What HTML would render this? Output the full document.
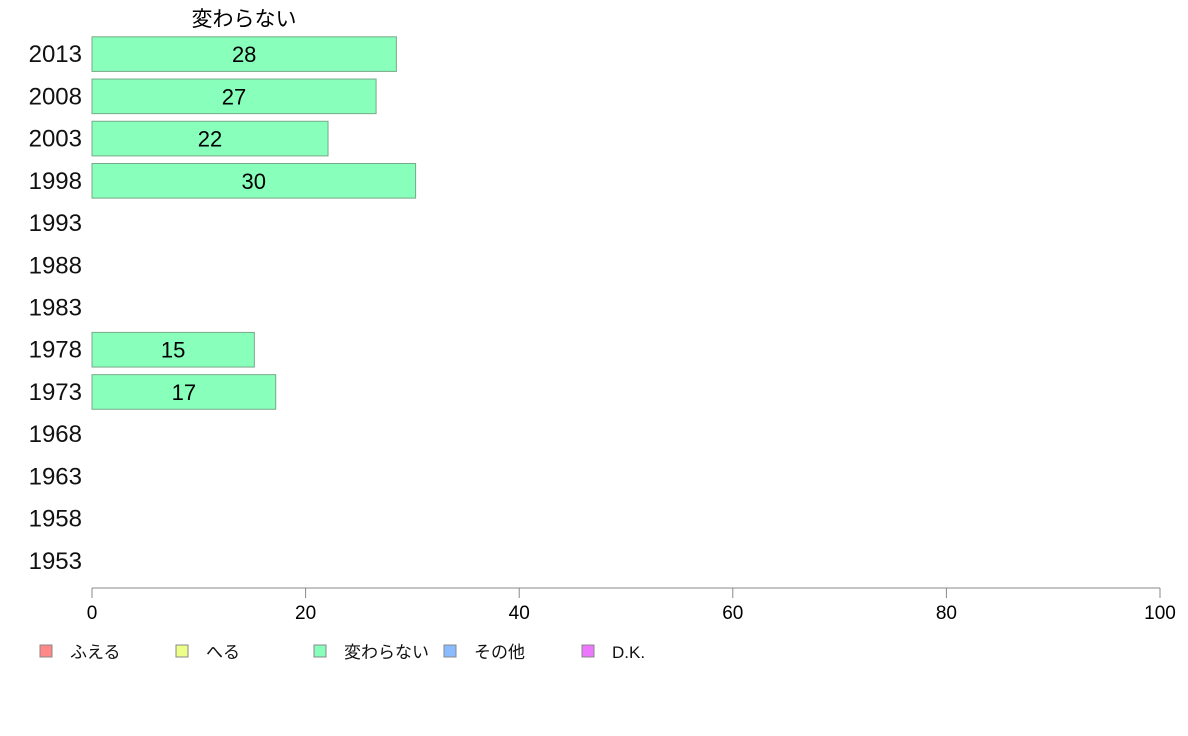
<!DOCTYPE html>
<html><head><meta charset="utf-8"><style>
body{margin:0;background:#fff;}
svg{display:block;font-family:"Liberation Sans","Noto Sans CJK JP",sans-serif;}
</style></head><body>
<svg id="chart" width="1188" height="736">
<text x="244" y="26" font-size="21" text-anchor="middle">変わらない</text>
</svg>
<script>
const years = ["2013","2008","2003","1998","1993","1988","1983","1978","1973","1968","1963","1958","1953"];
const values = [28.5,26.6,22.1,30.3,null,null,null,15.2,17.2,null,null,null,null];
const valueLabels = ["28","27","22","30","","","","15","17","","","",""];
const ticks = [0,20,40,60,80,100];
const legendLabels = ["ふえる","へる","変わらない","その他","D.K."];
const legendColors = ["#ff8888","#eeff88","#88ffbb","#88bbff","#ee77ff"];

const svgEl = document.getElementById('chart');
const NS = 'http://www.w3.org/2000/svg';
const x0 = 92, x1 = 1160, yTop = 33, yBottom = 582;
const xs = v => x0 + (v/100)*(x1-x0);
const band = (yBottom-yTop)/years.length;
const yc = i => yTop + band*(i+0.5);
function mk(tag, attrs){const e=document.createElementNS(NS,tag);for(const k in attrs)e.setAttribute(k,attrs[k]);svgEl.appendChild(e);return e;}

years.forEach((yr,i)=>{
  const t = mk('text',{x:82,y:yc(i)+8,'font-size':24,'text-anchor':'end',fill:'#111'});
  t.textContent = yr;
  
  
  if(values[i]!=null){
    const h = band*0.82;
    const r = mk('rect',{x:x0,y:yc(i)-h/2,width:xs(values[i])-x0,height:h,fill:'#88ffbb',stroke:'#77aa88','stroke-width':1});
    
    
    const vl = mk('text',{x:(x0+xs(values[i]))/2,y:yc(i)+8,'font-size':22,'text-anchor':'middle',fill:'#000'});
    vl.textContent = valueLabels[i];
    
    
  }
});

const axis = mk('line',{x1:x0,x2:x1,y1:588,y2:588,stroke:'#888','stroke-width':1});


ticks.forEach(v=>{
  const tl = mk('line',{x1:xs(v),x2:xs(v),y1:588,y2:598,stroke:'#888','stroke-width':1});
  
  
  const tt = mk('text',{x:xs(v),y:619,'font-size':19,'text-anchor':'middle',fill:'#000'});
  tt.textContent = v;
  
  
});

const lx = [40,176,314,444,582];
legendLabels.forEach((lab,i)=>{
  const r = mk('rect',{x:lx[i],y:645,width:12,height:12,fill:legendColors[i],stroke:'#888','stroke-width':1});
  
  
  const t = mk('text',{x:lx[i]+30,y:658,'font-size':17,fill:'#111'});
  t.textContent = lab;
  
  
});
</script>
</body></html>
